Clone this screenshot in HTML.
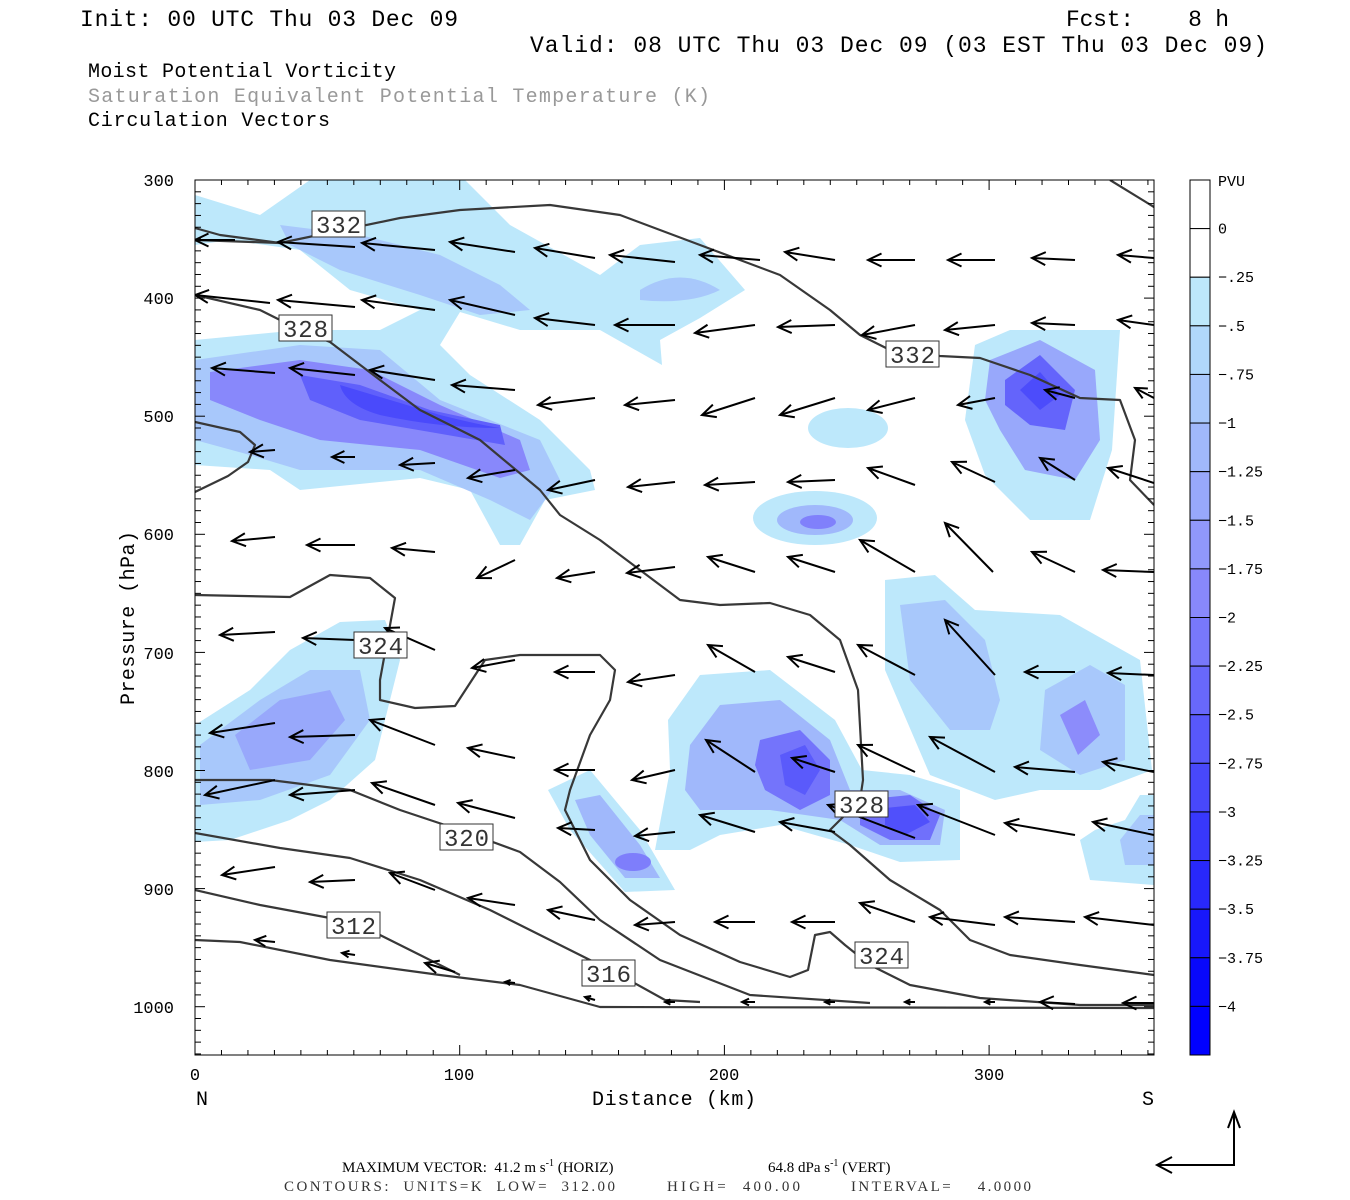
<!DOCTYPE html>
<html><head><meta charset="utf-8"><style>
html,body{margin:0;padding:0;background:#fff;}
svg{display:block;}
text{white-space:pre;}
</style></head><body>
<svg id="s" width="1350" height="1200" viewBox="0 0 1350 1200" xmlns="http://www.w3.org/2000/svg">
<rect width="1350" height="1200" fill="#fff"/>
<g font-family="Liberation Mono, monospace">
<text x="80" y="26" font-size="23" fill="#000" textLength="378">Init: 00 UTC Thu 03 Dec 09</text>
<text x="1066" y="26" font-size="23" fill="#000" textLength="163">Fcst:    8 h</text>
<text x="530" y="52" font-size="23" fill="#000" textLength="737">Valid: 08 UTC Thu 03 Dec 09 (03 EST Thu 03 Dec 09)</text>
<text x="88" y="77" font-size="20" fill="#000" textLength="308">Moist Potential Vorticity</text>
<text x="88" y="102" font-size="20" fill="#999" textLength="622">Saturation Equivalent Potential Temperature (K)</text>
<text x="88" y="126" font-size="20" fill="#000" textLength="242">Circulation Vectors</text>
</g>
<defs><clipPath id="c"><rect x="195" y="180" width="959" height="875"/></clipPath></defs>
<g clip-path="url(#c)">
<g>
<path fill="#bde8fb" d="M195,195 L260,215 L310,180 L465,180 L510,225 L600,275 L640,245 L700,238 L745,290 L700,318 L660,340 L662,365 L600,330 L520,330 L460,312 L440,345 L470,375 L540,420 L590,470 L595,490 L545,500 L520,545 L500,545 L470,490 L420,478 L300,490 L270,470 L195,465 L195,340 L300,330 L380,330 L420,310 L350,290 L300,250 L230,240 L195,245Z"/>
<path fill="#a8c8fb" d="M280,225 L360,235 L440,255 L500,285 L530,310 L480,315 L420,295 L340,270 L290,245Z"/>
<path fill="#a8c8fb" d="M640,290 Q680,265 720,290 Q690,305 640,300Z"/>
<path fill="#a8c8fb" d="M195,360 L300,345 L380,350 L440,400 L540,440 L560,480 L530,520 L490,500 L420,470 L300,470 L250,455 L195,440Z"/>
<path fill="#8888fb" d="M210,372 L300,360 L370,370 L440,405 L520,440 L530,470 L500,478 L420,450 L320,440 L260,420 L210,400Z"/>
<path fill="#6060fb" d="M300,375 L360,385 L430,410 L500,425 L505,445 L430,432 L360,420 L310,400Z"/>
<path fill="#4a4afb" d="M340,385 Q390,400 440,415 Q480,425 500,428 Q440,428 380,415 Q345,405 340,385Z"/>
<path fill="#bde8fb" d="M975,345 L1010,330 L1120,330 L1112,450 L1090,520 L1030,520 L985,475 L965,420Z"/>
<path fill="#98a8fb" d="M990,360 L1040,340 L1095,370 L1100,440 L1075,480 L1025,470 L1000,430 L985,400Z"/>
<path fill="#6464fb" d="M1005,380 L1040,355 L1075,390 L1065,430 L1030,425 L1005,405Z"/>
<path fill="#4c4cfb" d="M1020,390 L1040,372 L1060,395 L1040,410Z"/>
<ellipse cx="848" cy="428" rx="40" ry="20" fill="#bde8fb"/>
<ellipse cx="815" cy="518" rx="62" ry="27" fill="#bde8fb"/>
<ellipse cx="815" cy="520" rx="38" ry="15" fill="#a0b8fb"/>
<ellipse cx="818" cy="522" rx="18" ry="7" fill="#8080fb"/>
<path fill="#bde8fb" d="M195,725 L250,690 L290,650 L340,622 L385,620 L400,660 L375,760 L330,800 L290,820 L230,840 L195,842Z"/>
<path fill="#a8c8fb" d="M200,745 L260,700 L310,670 L360,670 L370,720 L330,775 L260,800 L200,805Z"/>
<path fill="#98a8fb" d="M235,735 L280,700 L330,690 L345,720 L310,760 L250,770Z"/>
<path fill="#bde8fb" d="M885,580 L935,575 L975,610 L1060,615 L1140,660 L1152,770 L1100,790 L1040,790 L995,800 L930,775 L885,670Z"/>
<path fill="#a8c8fb" d="M900,605 L945,600 L985,640 L1000,700 L990,730 L950,730 L910,680Z"/>
<path fill="#a8c8fb" d="M1045,690 L1090,665 L1125,685 L1125,760 L1080,775 L1040,750Z"/>
<path fill="#8c8cfb" d="M1060,715 L1085,700 L1100,735 L1078,755Z"/>
<path fill="#bde8fb" d="M668,720 L700,675 L770,670 L835,720 L862,770 L910,775 L960,790 L960,860 L900,862 L850,845 L780,825 L720,835 L690,850 L655,850 L670,770Z"/>
<path fill="#a0b8fb" d="M690,745 L720,705 L780,700 L830,740 L850,790 L900,790 L945,810 L940,845 L880,845 L840,820 L770,810 L700,810 L685,790Z"/>
<path fill="#7474fb" d="M760,740 L800,730 L830,760 L830,795 L800,810 L765,790 L755,765Z"/>
<path fill="#5a5afb" d="M780,755 L805,745 L820,770 L805,795 L785,785Z"/>
<path fill="#7070fb" d="M860,800 L910,795 L940,815 L930,840 L890,840 L860,825Z"/>
<path fill="#5050fb" d="M885,808 L915,805 L930,822 L905,835 L885,825Z"/>
<path fill="#bde8fb" d="M548,790 L590,770 L640,830 L675,890 L625,892 L570,830Z"/>
<path fill="#a0b8fb" d="M575,800 L600,795 L640,845 L660,878 L625,878 L590,835Z"/>
<ellipse cx="633" cy="862" rx="18" ry="9" fill="#7e7efb"/>
<path fill="#bde8fb" d="M1080,840 L1095,830 L1125,820 L1140,795 L1154,795 L1154,885 L1090,880Z"/>
<path fill="#a8c8fb" d="M1120,840 L1140,815 L1154,815 L1154,865 L1125,865Z"/>
</g>
<g fill="none" stroke="#383838" stroke-width="2.2" stroke-linejoin="round">
<path d="M195,240 L280,243 L400,218 L460,210 L550,205 L620,215 L700,245 L780,275 L830,310 L860,335 L890,350 L940,356 L980,358 L1030,375 L1080,398 L1120,400 L1135,440 L1130,480 L1154,505"/>
<path d="M195,228 L220,235 L280,243"/>
<path d="M1110,180 L1154,207"/>
<path d="M195,295 L260,310 L300,330 L330,342 L380,380 L420,410 L480,440 L540,490 L560,515 L600,540 L640,570 L680,600 L720,605 L770,603 L810,615 L840,640 L858,690 L863,780 L860,800 L830,830 L850,845 L890,880 L940,910 L970,940 L1010,955 L1080,965 L1154,975"/>
<path d="M195,422 L240,432 L255,445 L248,462 L228,476 L195,492"/>
<path d="M195,595 L290,597 L330,575 L370,578 L395,598 L380,680 L380,700 L415,708 L455,706 L485,660 L520,655 L600,655 L615,670 L610,700 L590,735 L570,790 L565,810 L590,860 L630,900 L680,935 L740,962 L790,977 L808,970 L815,935 L830,932 L845,945 L870,965 L910,985 L980,998 L1080,1005 L1154,1005"/>
<path d="M195,780 L270,780 L350,790 L400,810 L460,830 L520,852 L560,882 L600,920 L660,960 L750,995 L870,1003"/>
<path d="M195,833 L280,848 L350,858 L420,880 L490,910 L560,945 L620,975 L665,1000 L700,1002"/>
<path d="M195,890 L260,905 L330,918 L380,935 L440,965 L460,975"/>
<path d="M195,940 L240,942 L330,960 L440,975 L520,985 L600,1007 L1154,1008"/>
</g>
<g id="arr" stroke="#000" stroke-width="2" fill="none"></g>
<g font-family="Liberation Mono, monospace" font-size="24" fill="#333">
<rect x="312" y="211" width="53" height="26" fill="#fff" stroke="#333"/><text x="316" y="233" textLength="45">332</text>
<rect x="279" y="315" width="53" height="26" fill="#fff" stroke="#333"/><text x="283" y="337" textLength="45">328</text>
<rect x="886" y="341" width="53" height="26" fill="#fff" stroke="#333"/><text x="890" y="363" textLength="45">332</text>
<rect x="354" y="632" width="53" height="26" fill="#fff" stroke="#333"/><text x="358" y="654" textLength="45">324</text>
<rect x="835" y="791" width="53" height="26" fill="#fff" stroke="#333"/><text x="839" y="813" textLength="45">328</text>
<rect x="440" y="824" width="53" height="26" fill="#fff" stroke="#333"/><text x="444" y="846" textLength="45">320</text>
<rect x="327" y="912" width="53" height="26" fill="#fff" stroke="#333"/><text x="331" y="934" textLength="45">312</text>
<rect x="855" y="942" width="53" height="26" fill="#fff" stroke="#333"/><text x="859" y="964" textLength="45">324</text>
<rect x="582" y="960" width="53" height="26" fill="#fff" stroke="#333"/><text x="586" y="982" textLength="45">316</text>
</g>
</g>
<rect x="195" y="180" width="959" height="875" fill="none" stroke="#000" stroke-width="1"/>
<g id="ticks" stroke="#000" stroke-width="1"></g>
<g font-family="Liberation Mono, monospace" font-size="17" fill="#000" text-anchor="end">
<text x="174" y="186">300</text><text x="174" y="304">400</text><text x="174" y="422">500</text><text x="174" y="540">600</text><text x="174" y="659">700</text><text x="174" y="777">800</text><text x="174" y="895">900</text><text x="174" y="1013">1000</text>
</g>
<g font-family="Liberation Mono, monospace" font-size="17" fill="#000" text-anchor="middle">
<text x="195" y="1080">0</text><text x="459" y="1080">100</text><text x="724" y="1080">200</text><text x="989" y="1080">300</text>
</g>
<g font-family="Liberation Mono, monospace" font-size="20" fill="#000">
<text x="202" y="1105" text-anchor="middle">N</text>
<text x="1148" y="1105" text-anchor="middle">S</text>
<text x="592" y="1105" textLength="164">Distance (km)</text>
<text transform="translate(134,705) rotate(-90)" textLength="174">Pressure (hPa)</text>
</g>
<g id="cb"></g>
<text x="1218" y="186" font-family="Liberation Mono, monospace" font-size="15">PVU</text>
<g font-family="Liberation Serif, serif" font-size="15" fill="#000">
<text x="342" y="1172">MAXIMUM VECTOR:  41.2 m s<tspan dy="-6" font-size="10">-1</tspan><tspan dy="6"> (HORIZ)</tspan></text>
<text x="768" y="1172">64.8 dPa s<tspan dy="-6" font-size="10">-1</tspan><tspan dy="6"> (VERT)</tspan></text>
<text x="284" y="1191" fill="#333" textLength="331">CONTOURS:  UNITS=K  LOW=  312.00</text>
<text x="667" y="1191" fill="#333" textLength="133">HIGH=  400.00</text>
<text x="851" y="1191" fill="#333" textLength="180">INTERVAL=    4.0000</text>
</g>
<g stroke="#000" stroke-width="2" fill="none">
<path d="M1157,1165 L1234,1165 L1234,1112"/>
<path d="M1172,1157 L1157,1165 L1172,1173"/>
<path d="M1228,1128 L1234,1112 L1240,1128"/>
</g>
</svg>
<script>
var NS="http://www.w3.org/2000/svg";
function el(p,t,a){var e=document.createElementNS(NS,t);for(var k in a)e.setAttribute(k,a[k]);p.appendChild(e);return e;}
var A=[[195,240,235,240],[278,242,355,247],[362,243,435,250],[450,242,515,252],[535,248,595,258],[610,255,675,262],[700,255,760,260],[785,252,835,260],[868,260,915,260],[948,260,995,260],[1032,258,1075,260],[1118,255,1154,258],
[195,295,270,303],[278,300,355,307],[362,300,435,310],[450,300,515,315],[535,318,595,325],[615,325,675,325],[695,333,755,325],[778,327,835,325],[862,335,915,325],[945,330,995,325],[1032,323,1075,325],[1118,320,1154,325],
[212,368,275,373],[290,368,355,375],[370,370,435,380],[452,385,515,390],[538,405,595,398],[625,405,675,400],[702,415,755,398],[780,415,835,398],[868,410,915,398],[958,405,995,398],[1045,390,1075,398],[1135,388,1154,398],
[250,452,275,450],[332,457,355,457],[400,465,435,463],[468,478,515,470],[548,490,595,480],[628,487,675,482],[705,485,755,482],[788,482,835,480],[868,468,915,485],[952,462,995,482],[1040,458,1075,480],[1108,468,1154,483],
[232,541,275,537],[307,545,355,545],[392,548,435,552],[477,578,515,560],[557,578,595,572],[627,573,675,567],[708,557,755,572],[788,557,835,572],[860,540,915,572],[945,523,993,572],[1032,552,1075,572],[1103,570,1154,572],
[220,635,275,632],[303,638,355,640],[385,628,435,650],[472,668,515,660],[555,672,595,672],[628,682,675,675],[708,645,755,672],[788,657,835,672],[858,645,915,675],[945,620,995,675],[1025,672,1075,672],[1108,673,1154,675],
[210,733,275,723],[290,737,355,735],[370,720,435,745],[468,748,515,758],[555,770,595,770],[632,780,675,770],[706,740,755,772],[792,758,835,772],[858,745,915,772],[930,737,995,772],[1015,767,1075,772],[1103,762,1154,772],
[205,795,275,780],[290,795,355,790],[372,783,435,805],[458,803,515,818],[558,828,595,830],[635,836,675,832],[700,815,755,832],[780,822,835,832],[828,805,915,838],[918,805,995,835],[1005,823,1075,835],[1093,822,1154,835],
[222,875,275,867],[310,882,355,880],[390,873,435,890],[468,898,515,905],[548,910,595,920],[635,925,675,922],[715,922,755,922],[792,922,835,922],[860,903,915,922],[930,917,995,925],[1005,917,1075,922],[1085,917,1154,925],
[255,940,275,942],[342,953,355,955],[425,963,455,972],[505,982,515,983],[585,997,595,1000],[665,1002,675,1002],[742,1002,755,1002],[825,1002,835,1002],[905,1002,915,1002],[985,1002,995,1002],[1040,1002,1075,1004],[1123,1003,1154,1003]];
var g=document.getElementById("arr");
A.forEach(function(a){var hx=a[0],hy=a[1],tx=a[2],ty=a[3];var dx=tx-hx,dy=ty-hy,L=Math.sqrt(dx*dx+dy*dy)||1;var ux=dx/L,uy=dy/L;var h=Math.min(15,L*0.6);
var c=Math.cos(0.45),s=Math.sin(0.45);
var x1=hx+h*(ux*c-uy*s),y1=hy+h*(ux*s+uy*c),x2=hx+h*(ux*c+uy*s),y2=hy+h*(-ux*s+uy*c);
el(g,"path",{d:"M"+tx+","+ty+" L"+hx+","+hy+" M"+x1+","+y1+" L"+hx+","+hy+" L"+x2+","+y2});});
var t=document.getElementById("ticks");
for(var p=300;p<=1040;p+=10){var y=180+(p-300)*1.181;var len=(p%100==0)?10:6;el(t,"line",{x1:195,y1:y,x2:195+len,y2:y});el(t,"line",{x1:1154,y1:y,x2:1154-len,y2:y});}
for(var d=0;d<=360;d+=10){var x=195+d*2.647;var len=(d%100==0)?10:5;el(t,"line",{x1:x,y1:1055,x2:x,y2:1055-len});el(t,"line",{x1:x,y1:180,x2:x,y2:180+len});}
var cols=["#ffffff","#ffffff","#bde8fb","#b0d8fb","#a8c8fb","#a0b8fb","#98a8fb","#9098fb","#8888fb","#7878fb","#6868fb","#5858fb","#4848fb","#3838fb","#2828fb","#1818fb","#0808fb","#0000ff"];
var labs=["0","-.25","-.5","-.75","-1","-1.25","-1.5","-1.75","-2","-2.25","-2.5","-2.75","-3","-3.25","-3.5","-3.75","-4"];
var cb=document.getElementById("cb");var hh=875/18;
for(var i=0;i<18;i++){el(cb,"rect",{x:1190,y:180+i*hh,width:20,height:hh,fill:cols[i],stroke:"#000","stroke-width":1});}
for(var i=0;i<17;i++){var y=180+(i+1)*hh;var tx=el(cb,"text",{x:1218,y:y+5,"font-family":"Liberation Mono, monospace","font-size":"15"});tx.textContent=labs[i].replace("-","\u2212");}
</script>
</body></html>
